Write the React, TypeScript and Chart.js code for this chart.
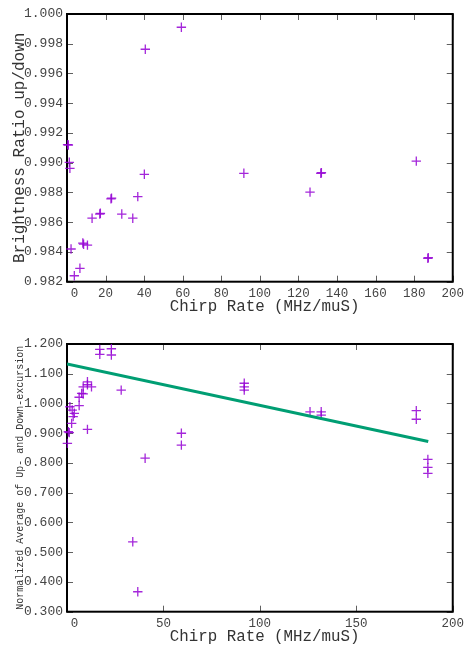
import React, { useEffect, useRef } from 'react';
import { Chart, registerables } from 'chart.js';

Chart.register(...registerables);

const FONT = '"Liberation Mono", "DejaVu Sans Mono", monospace';

// ---- Top chart: Brightness ratio up/down vs chirp rate ----
const topX = [0.3, 0.7, 1.2, 1.5, 2.1, 3.8, 6.7, 8.2, 8.6, 10.6, 13.0, 17.0, 17.3, 22.8, 23.1, 28.4, 34.1, 36.7, 40.1, 40.6, 59.3, 91.7, 126.0, 131.6, 131.9, 181.1, 187.1, 187.3];
const topY = [0.99122, 0.99119, 0.99003, 0.98962, 0.9842, 0.9824, 0.9829, 0.9846, 0.98452, 0.98446, 0.98627, 0.98655, 0.9866, 0.98757, 0.98762, 0.98655, 0.98627, 0.98772, 0.98922, 0.99763, 0.99911, 0.98929, 0.98802, 0.98929, 0.98933, 0.99011, 0.98357, 0.98362];
const topXTicks = [0, 20, 40, 60, 80, 100, 120, 140, 160, 180, 200];
const topYTicks = [0.982, 0.984, 0.986, 0.988, 0.99, 0.992, 0.994, 0.996, 0.998, 1.0];

// ---- Bottom chart: normalized average of up- and down-excursion ----
const botX = [0.2, 0.7, 1.2, 1.5, 2.4, 2.7, 3.2, 3.8, 6.3, 6.3, 7.6, 8.4, 8.4, 10.6, 10.6, 10.6, 12.7, 17.0, 17.0, 23.0, 23.0, 28.1, 34.1, 36.7, 40.5, 59.3, 59.3, 91.9, 91.9, 91.9, 126.0, 131.8, 131.8, 181.1, 181.1, 187.1, 187.1, 187.1];
const botY = [0.866, 0.905, 0.902, 0.989, 0.933, 0.978, 0.956, 0.967, 0.993, 1.021, 1.034, 1.032, 1.056, 1.073, 1.063, 0.913, 1.056, 1.182, 1.165, 1.184, 1.163, 1.045, 0.535, 0.367, 0.816, 0.9, 0.86, 1.068, 1.056, 1.045, 0.972, 0.972, 0.961, 0.976, 0.947, 0.812, 0.785, 0.765];
const fitX = [0, 187.3];
const fitY = [1.133, 0.872];
const botXTicks = [0, 50, 100, 150, 200];
const botYTicks = [0.3, 0.4, 0.5, 0.6, 0.7, 0.8, 0.9, 1.0, 1.1, 1.2];

const PURPLE = 'rgba(148, 0, 211, 0.85)';
const GREEN = '#009e73';
const TICK_COLOR = '#444444';
const TITLE_COLOR = '#333333';

const toPoints = (xs: number[], ys: number[]) => xs.map((x, i) => ({ x, y: ys[i] }));

const framePlugin = {
  id: 'gnuFrame',
  beforeDatasetsDraw(chart: any) {
    const { ctx, chartArea: a, scales } = chart;
    const xs = scales.x;
    const ys = scales.y;
    const L = 6;
    ctx.save();
    ctx.strokeStyle = '#606060';
    ctx.lineWidth = 1;
    ctx.beginPath();
    xs.ticks.forEach((t: any) => {
      const px = Math.round(xs.getPixelForValue(t.value)) + 0.5;
      ctx.moveTo(px, a.bottom);
      ctx.lineTo(px, a.bottom - L);
      ctx.moveTo(px, a.top);
      ctx.lineTo(px, a.top + L);
    });
    ys.ticks.forEach((t: any) => {
      const py = Math.round(ys.getPixelForValue(t.value)) + 0.5;
      ctx.moveTo(a.left, py);
      ctx.lineTo(a.left + L, py);
      ctx.moveTo(a.right, py);
      ctx.lineTo(a.right - L, py);
    });
    ctx.stroke();
    ctx.strokeStyle = '#000000';
    ctx.lineWidth = 2;
    ctx.strokeRect(a.left, a.top, a.right - a.left, a.bottom - a.top);
    ctx.restore();
  },
};

function makeConfig(opts: {
  datasets: any[];
  xTicks: number[];
  yTicks: number[];
  yMin: number;
  yMax: number;
  yTitle: string;
  yTitleSize: number;
  yTitlePad: number;
  padTop: number;
  xHeight: number;
  xTitlePad: number;
  yDigits: number;
}) {
  return {
    type: 'scatter',
    data: { datasets: opts.datasets },
    plugins: [framePlugin],
    options: {
      responsive: false,
      animation: false,
      devicePixelRatio: 1,
      layout: { padding: { top: opts.padTop, right: 12, left: 0, bottom: 0 } },
      plugins: { legend: { display: false }, tooltip: { enabled: false } },
      scales: {
        x: {
          type: 'linear',
          min: 0,
          max: 200,
          afterBuildTicks: (s: any) => {
            s.ticks = opts.xTicks.map((v) => ({ value: v }));
          },
          afterFit: (s: any) => {
            s.height = opts.xHeight;
          },
          grid: { display: false, drawTicks: false },
          border: { display: false },
          ticks: {
            autoSkip: false,
            maxRotation: 0,
            padding: 4,
            color: TICK_COLOR,
            font: { family: FONT, size: 12.5 },
            callback: (v: any) => (Number(v) === 0 ? '  0' : String(v)),
          },
          title: {
            display: true,
            text: ' Chirp Rate (MHz/muS)',
            color: TITLE_COLOR,
            font: { family: FONT, size: 15.8, lineHeight: 1.2 },
            padding: { top: 0, bottom: opts.xTitlePad },
          },
        },
        y: {
          type: 'linear',
          min: opts.yMin,
          max: opts.yMax,
          afterBuildTicks: (s: any) => {
            s.ticks = opts.yTicks.map((v) => ({ value: v }));
          },
          afterFit: (s: any) => {
            s.width = 67;
          },
          grid: { display: false, drawTicks: false },
          border: { display: false },
          ticks: {
            autoSkip: false,
            padding: 4,
            color: TICK_COLOR,
            font: { family: FONT, size: 13 },
            callback: (v: any) => Number(v).toFixed(opts.yDigits),
          },
          title: {
            display: true,
            text: opts.yTitle,
            color: TITLE_COLOR,
            font: { family: FONT, size: opts.yTitleSize, lineHeight: 1.2 },
            padding: { top: opts.yTitlePad, bottom: 0 },
          },
        },
      },
    },
  };
}

const pointDataset = (xs: number[], ys: number[]) => ({
  data: toPoints(xs, ys),
  pointStyle: 'cross',
  pointRadius: 4.7,
  pointHoverRadius: 4.7,
  borderColor: PURPLE,
  backgroundColor: PURPLE,
  borderWidth: 1.3,
  clip: false,
  showLine: false,
});

function Plot({ config }: { config: any }) {
  const ref = useRef<HTMLCanvasElement | null>(null);
  useEffect(() => {
    if (!ref.current) return;
    const chart = new Chart(ref.current, config);
    return () => chart.destroy();
  }, [config]);
  return <canvas ref={ref} width={468} height={324} style={{ display: 'block', width: 468, height: 324 }} />;
}

const topConfig = makeConfig({
  datasets: [pointDataset(topX, topY)],
  xTicks: topXTicks,
  yTicks: topYTicks,
  yMin: 0.982,
  yMax: 1.0,
  yTitle: 'Brightness Ratio up/down',
  yTitleSize: 16,
  yTitlePad: 10.4,
  padTop: 14,
  xHeight: 42.3,
  xTitlePad: 7.5,
  yDigits: 3,
});

const bottomConfig = makeConfig({
  datasets: [
    {
      data: toPoints(fitX, fitY),
      showLine: true,
      borderColor: GREEN,
      backgroundColor: GREEN,
      borderWidth: 3,
      pointRadius: 0,
      pointHoverRadius: 0,
    },
    pointDataset(botX, botY),
  ],
  xTicks: botXTicks,
  yTicks: botYTicks,
  yMin: 0.3,
  yMax: 1.2,
  yTitle: 'Normalized Average of Up- and Down-excursion',
  yTitleSize: 10,
  yTitlePad: 14,
  padTop: 20,
  xHeight: 36.3,
  xTitlePad: 1.5,
  yDigits: 3,
});

export default function App() {
  return (
    <div style={{ position: 'absolute', left: 0, top: 0, width: 468, height: 648, background: '#ffffff' }}>
      <Plot config={topConfig} />
      <Plot config={bottomConfig} />
    </div>
  );
}
